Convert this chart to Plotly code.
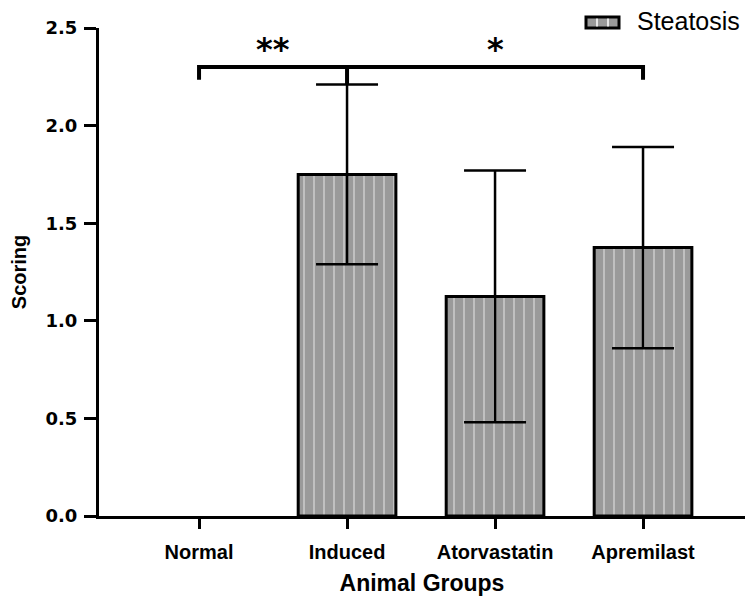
import plotly.graph_objects as go

# Steatosis scoring per animal group (mean ± SD)
groups = ["Normal", "Induced", "Atorvastatin", "Apremilast"]
steatosis_mean = [0.0, 1.75, 1.125, 1.375]
steatosis_sd = [None, 0.46, 0.645, 0.515]
y_ticks = [0.0, 0.5, 1.0, 1.5, 2.0, 2.5]

# significance bracket: Normal vs Induced (**) and Normal vs Apremilast (*)
bracket_y = 2.30
bracket_drop = 0.065
star_labels = ["**", "*"]
star_x = [0.5, 2.0]
star_y = 2.39

arial = "Liberation Sans, Arial, sans-serif"
wide = "DejaVu Sans, Verdana, sans-serif"

W, H = 749, 596
ML, MR, MT, MB = 99, 4, 28, 80

x_idx = list(range(len(groups)))
# an empty (zero) bar gets no outline
outline_w = [0 if v == 0 else 3 for v in steatosis_mean]

fig = go.Figure()
fig.add_trace(go.Bar(
    x=x_idx,
    y=steatosis_mean,
    width=0.66,
    name="Steatosis",
    marker=dict(
        color="#9a9a9a",
        line=dict(color="black", width=outline_w),
        pattern=dict(shape="|", fgcolor="white", bgcolor="#9a9a9a",
                     size=10, solidity=0.15, fillmode="overlay"),
    ),
    showlegend=False,
))

# SD error bars only for groups that have a spread
err_x = [i for i, s in zip(x_idx, steatosis_sd) if s is not None]
err_y = [steatosis_mean[i] for i in err_x]
err_sd = [steatosis_sd[i] for i in err_x]
fig.add_trace(go.Scatter(
    x=err_x, y=err_y, mode="markers",
    marker=dict(size=1, color="rgba(0,0,0,0)"),
    error_y=dict(type="data", array=err_sd, visible=True,
                 color="black", thickness=2.5, width=31),
    showlegend=False, hoverinfo="skip",
))

shapes = []
# bracket
idx_induced = groups.index("Induced")
top_induced = steatosis_mean[idx_induced] + steatosis_sd[idx_induced]
shapes.append(dict(type="path", xref="x", yref="y",
                   path=f"M 0,{bracket_y - bracket_drop} L 0,{bracket_y} L 3,{bracket_y} L 3,{bracket_y - bracket_drop}",
                   line=dict(color="black", width=4)))
shapes.append(dict(type="line", xref="x", yref="y",
                   x0=idx_induced, x1=idx_induced, y0=bracket_y, y1=top_induced,
                   line=dict(color="black", width=4)))

# paper coordinates are relative to the plotting area
def px(x):
    return (x - ML) / (W - ML - MR)
def py(y):
    return (H - MB - y) / (H - MT - MB)

# legend key drawn as a small hatched box
lx0, lx1, ly0, ly1 = 586, 619, 17, 28
shapes.append(dict(type="rect", xref="paper", yref="paper",
                   x0=px(lx0), x1=px(lx1), y0=py(ly1), y1=py(ly0),
                   fillcolor="#9a9a9a", line=dict(color="black", width=3),
                   layer="above"))
for lx in (597, 608):
    shapes.append(dict(type="line", xref="paper", yref="paper",
                       x0=px(lx), x1=px(lx), y0=py(ly1 - 1.5), y1=py(ly0 + 1.5),
                       line=dict(color="white", width=1.5), layer="above"))

annotations = []
for sx, lab in zip(star_x, star_labels):
    annotations.append(dict(x=sx, y=star_y, xref="x", yref="y", text=lab,
                            showarrow=False,
                            font=dict(family=wide, size=32, color="black", weight="bold")))
annotations.append(dict(x=px(635), y=py(21), xref="paper", yref="paper", text="Steatosis",
                        xanchor="left", yanchor="middle", showarrow=False,
                        font=dict(family=arial, size=25, color="black")))

fig.update_layout(
    width=W, height=H,
    margin=dict(l=ML, r=MR, t=MT, b=MB),
    plot_bgcolor="white", paper_bgcolor="white",
    shapes=shapes, annotations=annotations,
    showlegend=False,
    xaxis=dict(
        range=[-0.676, 3.689],
        tickmode="array", tickvals=x_idx, ticktext=groups,
        ticks="outside", ticklen=10, tickwidth=3, tickcolor="black",
        showline=True, linewidth=3, linecolor="black",
        showgrid=False, zeroline=False,
        ticklabelstandoff=6,
        tickfont=dict(family=arial, size=20, color="black", weight="bold"),
        title=dict(text="Animal Groups", standoff=14,
                   font=dict(family=arial, size=23, color="black", weight="bold")),
    ),
    yaxis=dict(
        range=[0, 2.5],
        tickmode="array", tickvals=y_ticks, ticktext=[f"{v:.1f}" for v in y_ticks],
        ticks="outside", ticklen=12, tickwidth=3, tickcolor="black",
        showline=True, linewidth=3, linecolor="black",
        showgrid=False, zeroline=False,
        ticklabelstandoff=3,
        tickfont=dict(family=wide, size=18, color="black", weight="bold"),
        title=dict(text="Scoring", standoff=14,
                   font=dict(family=arial, size=20, color="black", weight="bold")),
    ),
)

fig.write_html("out.html")
